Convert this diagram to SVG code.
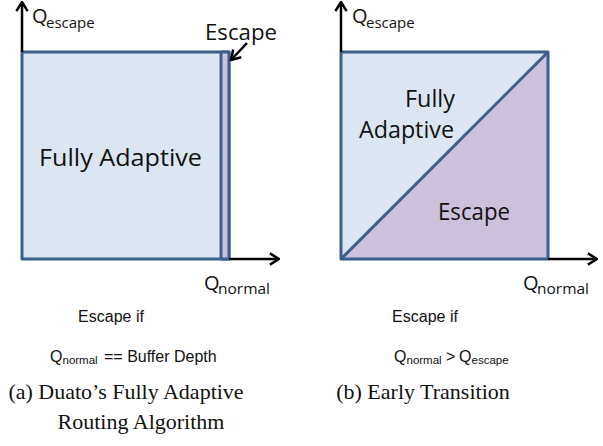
<svg xmlns="http://www.w3.org/2000/svg" width="603" height="446" viewBox="0 0 603 446">
<style>
.cal{font-family:"Open Sans","Noto Sans",sans-serif;fill:#111}
.ar{font-family:"Liberation Sans",Arial,sans-serif;fill:#111}
.tm{font-family:"Liberation Serif","Times New Roman",serif;fill:#111}
.box{stroke:#3B5E8C;stroke-width:3;stroke-linejoin:round}
.ax{stroke:#000;stroke-width:2.5;fill:none}
</style>
<defs>
<marker id="ah" viewBox="0 0 10 10" refX="9" refY="5" markerWidth="14" markerHeight="14" markerUnits="userSpaceOnUse" orient="auto">
<path d="M2.5,1 L9,5 L2.5,9" fill="none" stroke="#000" stroke-width="1.8"/>
</marker>
</defs>
<g id="panel-a">
<rect class="box" x="22" y="52" width="207" height="207" fill="#DCE6F2"/>
<rect class="box" x="221" y="52" width="8" height="207" fill="#CCC0DA"/>
<text class="cal" x="39" y="166" font-size="23" textLength="163" lengthAdjust="spacingAndGlyphs">Fully Adaptive</text>
<text class="cal" x="205" y="40" font-size="22" textLength="72" lengthAdjust="spacingAndGlyphs">Escape</text>
</g>
<g id="panel-b">
<polygon points="341,52 548,52 341,259" fill="#DCE6F2"/>
<polygon points="341,259 548,52 548,259" fill="#CCC0DA"/>
<rect class="box" x="341" y="52" width="207" height="207" fill="none"/>
<line class="box" x1="341" y1="259" x2="548" y2="52"/>
<text class="cal" x="405" y="107" font-size="23" textLength="50" lengthAdjust="spacingAndGlyphs">Fully</text>
<text class="cal" x="359" y="138" font-size="23" textLength="95" lengthAdjust="spacingAndGlyphs">Adaptive</text>
<text class="cal" x="438" y="220" font-size="23" textLength="72" lengthAdjust="spacingAndGlyphs">Escape</text>
</g>
<g id="connectors">
<line class="ax" x1="22" y1="52" x2="22" y2="2" marker-end="url(#ah)"/>
<line class="ax" x1="229" y1="259" x2="279" y2="259" marker-end="url(#ah)"/>
<line class="ax" x1="341" y1="52" x2="341" y2="2" marker-end="url(#ah)"/>
<line class="ax" x1="548" y1="259" x2="597" y2="259" marker-end="url(#ah)"/>
<line class="ax" x1="247" y1="43" x2="231" y2="60" marker-end="url(#ah)"/>
</g>
<g id="axis-labels">
<text class="cal" x="32" y="23" font-size="20">Q<tspan x="46" y="28" font-size="15">escape</tspan></text>
<text class="cal" x="204" y="290" font-size="20">Q<tspan x="218" y="294" font-size="15" textLength="52" lengthAdjust="spacingAndGlyphs">normal</tspan></text>
<text class="cal" x="352" y="23" font-size="20">Q<tspan x="366" y="28" font-size="15">escape</tspan></text>
<text class="cal" x="523" y="290" font-size="20">Q<tspan x="537" y="294" font-size="15" textLength="52" lengthAdjust="spacingAndGlyphs">normal</tspan></text>
</g>
<g id="captions">
<text class="ar" x="111" y="322" font-size="16" text-anchor="middle">Escape if</text>
<text class="ar" x="50" y="362" font-size="16">Q<tspan x="62.5" y="364" font-size="11.5">normal</tspan><tspan x="104" y="362">== Buffer Depth</tspan></text>
<text class="ar" x="425" y="322" font-size="16" text-anchor="middle">Escape if</text>
<text class="ar" x="394" y="362" font-size="16">Q<tspan x="406.5" y="364" font-size="11.5">normal</tspan><tspan x="446" y="362">&gt;</tspan><tspan x="459" y="362">Q</tspan><tspan x="471.5" y="364" font-size="11.5">escape</tspan></text>
<text class="tm" x="126" y="399" font-size="22" text-anchor="middle">(a) Duato’s Fully Adaptive</text>
<text class="tm" x="141" y="429" font-size="22" text-anchor="middle">Routing Algorithm</text>
<text class="tm" x="423" y="399" font-size="22" text-anchor="middle">(b) Early Transition</text>
</g>
</svg>
